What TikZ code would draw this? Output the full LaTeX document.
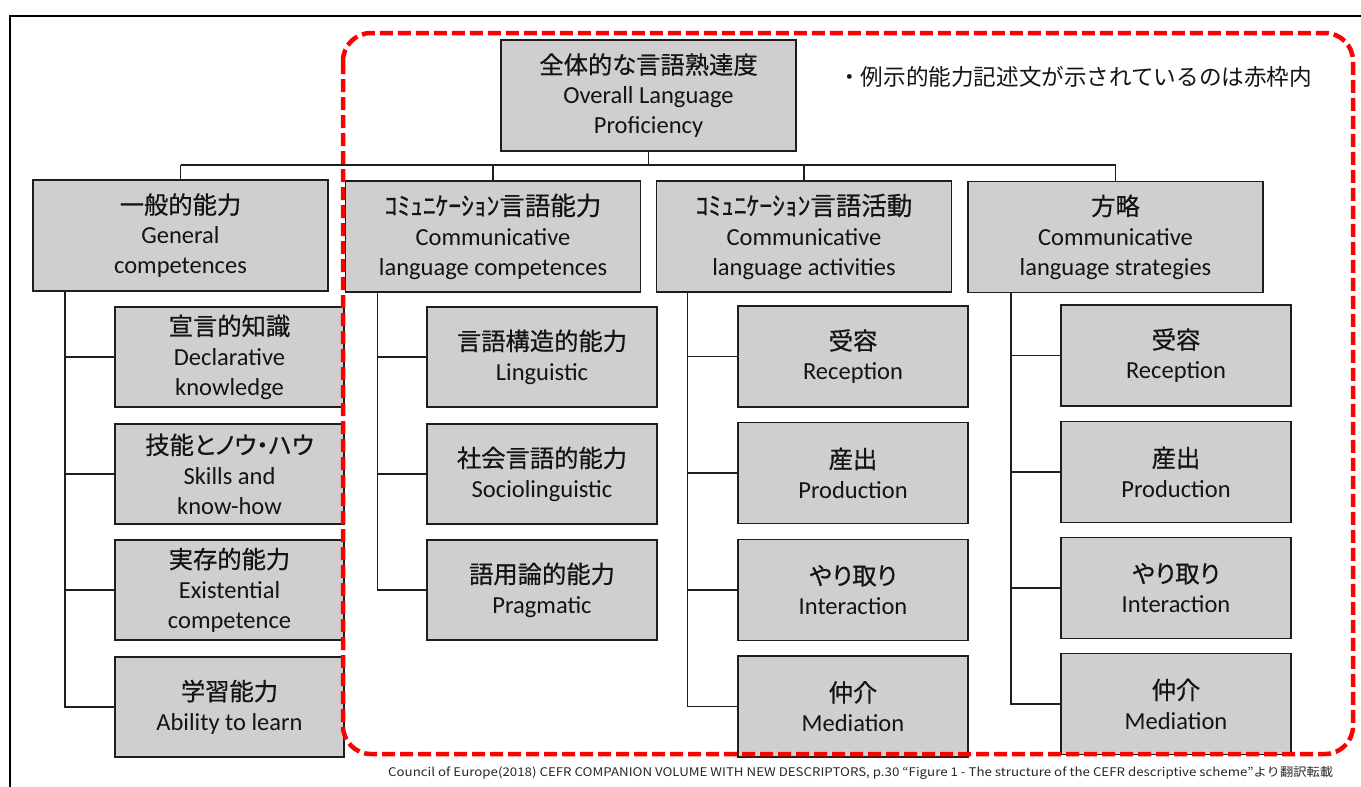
\documentclass[tikz,border=0pt]{standalone}
\usepackage{fontspec}
\setmainfont{Carlito}
\newfontfamily\jp{Noto Sans CJK JP}
\newfontfamily\jpp[RawFeature=+palt,FakeBold=0.6]{Noto Sans CJK JP}
\usetikzlibrary{calc}
\definecolor{boxgray}{RGB}{208,206,206}
\definecolor{linec}{RGB}{30,30,30}
\definecolor{txt}{RGB}{20,20,20}
\tikzset{
  bx/.style={draw=linec, fill=boxgray, line width=1.6pt, inner sep=0pt, outer sep=0pt,
    align=center, text=txt, font=\fontsize{24.5}{30}\selectfont},
  lvlbox/.style={bx, minimum width=295pt, minimum height=111pt},
  childbox/.style={bx, minimum width=230pt, minimum height=100pt},
  conn/.style={draw=linec, line width=1.5pt},
  redframe/.style={draw=red, line width=4.5pt, dash pattern=on 13pt off 5pt, rounded corners=28pt}
}
\newcommand{\J}[1]{{\jpp\fontsize{24.3}{30}\selectfont #1}}
\newcommand{\K}[1]{{\jpp\fontsize{25.5}{30}\selectfont #1}}
\begin{document}
\begin{tikzpicture}[x=1pt,y=-1pt]
\useasboundingbox[fill=white] (0,0) rectangle (1361,787);
% outer frame
\draw[line width=2pt, black] (10,787) -- (10,16) -- (1361,16);

% top
\node[lvlbox] (top) at (648.5,95.5) {\J{全体的な言語熟達度}\\Overall Language\\Proficiency};
% level 2
\node[lvlbox] (gen) at (180.5,235.5) {\J{一般的能力}\\General\\competences};
\node[lvlbox] (clc) at (493,236.5) {\K{ｺﾐｭﾆｹｰｼｮﾝ言語能力}\\Communicative\\language competences};
\node[lvlbox] (act) at (804,236.5) {\K{ｺﾐｭﾆｹｰｼｮﾝ言語活動}\\Communicative\\language activities};
\node[lvlbox] (str) at (1115.5,237) {\J{方略}\\Communicative\\language strategies};

% bus
\coordinate (busL) at (180,165);
\draw[conn] (top.south) -- (top.south |- busL);
\draw[conn] (gen.north |- busL) -- (str.north |- busL);
\draw[conn] (gen.north) -- (gen.north |- busL);
\draw[conn] (clc.north) -- (clc.north |- busL);
\draw[conn] (act.north) -- (act.north |- busL);
\draw[conn] (str.north) -- (str.north |- busL);

% column 1
\node[childbox, minimum width=229pt] (g1) at (229.5,357) {\J{宣言的知識}\\Declarative\\knowledge};
\node[childbox, minimum width=229pt] (g2) at (229.5,474) {\J{技能とノウ・ハウ}\\Skills and\\know-how};
\node[childbox, minimum width=229pt] (g3) at (229.5,590) {\J{実存的能力}\\Existential\\competence};
\node[childbox, minimum width=229pt] (g4) at (229.5,707) {\J{学習能力}\\Ability to learn};
\coordinate (gt) at ([xshift=32pt]gen.south west);
\foreach \c in {g1,g2,g3,g4} \draw[conn] (gt) |- (\c.west);

% column 2
\node[childbox] (c1) at (542,357) {\J{言語構造的能力}\\Linguistic};
\node[childbox] (c2) at (542,474) {\J{社会言語的能力}\\Sociolinguistic};
\node[childbox] (c3) at (542,590) {\J{語用論的能力}\\Pragmatic};
\coordinate (ct) at ([xshift=32pt]clc.south west);
\foreach \c in {c1,c2,c3} \draw[conn] (ct) |- (\c.west);

% column 3
\node[childbox, minimum height=101pt] (a1) at (853,356.5) {\J{受容}\\Reception};
\node[childbox, minimum height=101pt] (a2) at (853,473) {\J{産出}\\Production};
\node[childbox, minimum height=101pt] (a3) at (853,590) {\J{やり取り}\\Interaction};
\node[childbox, minimum height=101pt] (a4) at (853,706.5) {\J{仲介}\\Mediation};
\coordinate (at) at ([xshift=31pt]act.south west);
\foreach \c in {a1,a2,a3,a4} \draw[conn] (at) |- (\c.west);

% column 4
\node[childbox, minimum height=101pt] (s1) at (1176,355.5) {\J{受容}\\Reception};
\node[childbox, minimum height=101pt] (s2) at (1176,472) {\J{産出}\\Production};
\node[childbox, minimum height=101pt] (s3) at (1176,588) {\J{やり取り}\\Interaction};
\node[childbox, minimum height=101pt] (s4) at (1176,704) {\J{仲介}\\Mediation};
\coordinate (st) at ([xshift=43pt]str.south west);
\foreach \c in {s1,s2,s3,s4} \draw[conn] (st) |- (\c.west);

% red frame
\draw[redframe] (343,33) rectangle (1353,754);

% note
\node[anchor=west, inner sep=0pt, text=txt, font=\jp\fontsize{22.6}{26}\selectfont] (note) at (838,77) {・例示的能力記述文が示されているのは赤枠内};

% caption
\node[anchor=west, inner sep=0pt, text={rgb,255:red,40;green,40;blue,40}] (cap) at (388,773)
  {\resizebox*{945pt}{13pt}{\jp Council of Europe(2018) CEFR COMPANION VOLUME WITH NEW DESCRIPTORS, p.30 “Figure 1 - The structure of the CEFR descriptive scheme”より翻訳転載}};
\end{tikzpicture}
\end{document}
